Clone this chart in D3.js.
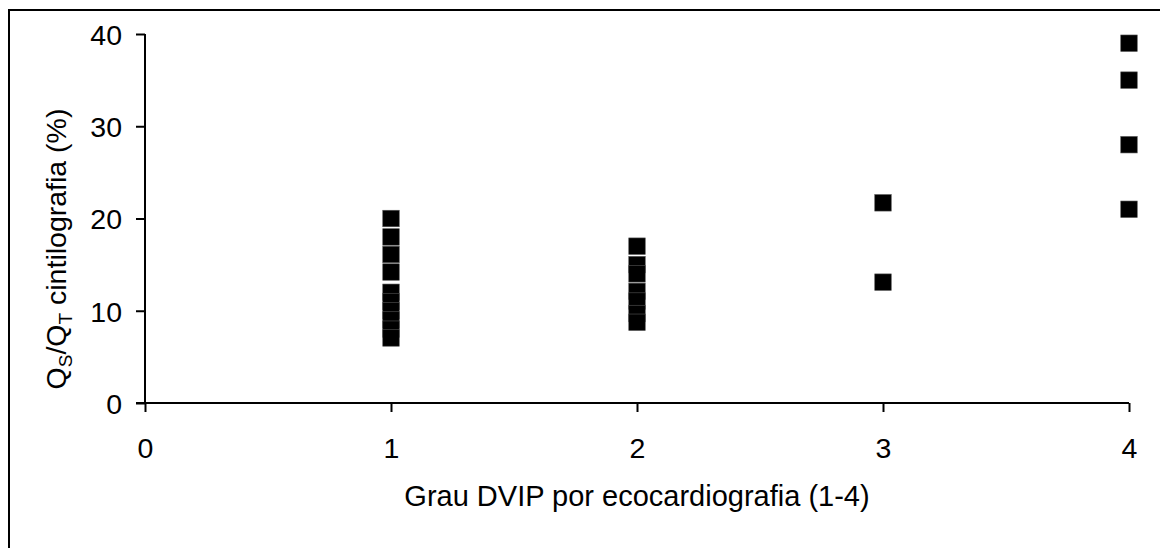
<!DOCTYPE html>
<html><head><meta charset="utf-8">
<script src="https://cdn.jsdelivr.net/npm/d3@7"></script>
<style>
html,body{margin:0;padding:0;background:#fff;}
svg{display:block;font-family:"Liberation Sans",Arial,sans-serif;}
</style></head>
<body>
<svg id="c" width="1160" height="548"></svg>
<script>
const xTicks = [0, 1, 2, 3, 4];
const yTicks = [0, 10, 20, 30, 40];
const grade = [1,1,1,1,1,1,1,1,1,1, 2,2,2,2,2,2,2, 3,3, 4,4,4,4];
const shunt = [20,18,16.1,14.2,12,11,10,9,8,7.05, 17,15,14,12.1,11.05,9.7,8.75, 21.7,13.1, 39,35,28,21];
const xTitle = "Grau DVIP por ecocardiografia (1-4)";

const svg = d3.select("#c");
svg.append("rect").attr("x",9).attr("y",10).attr("width",1200).attr("height",600)
  .attr("fill","none").attr("stroke","#000").attr("stroke-width",2);

const x = d3.scaleLinear().domain([0,4]).range([145,1129]);
const y = d3.scaleLinear().domain([0,40]).range([403,34]);
const fmt = d3.format("d");

const xAxis = svg.append("g").attr("transform","translate(0,403)")
  .call(d3.axisBottom(x).tickValues(xTicks).tickFormat(fmt).tickSize(9).tickSizeOuter(0));
const yAxis = svg.append("g").attr("transform","translate(145,0)")
  .call(d3.axisLeft(y).tickValues(yTicks).tickFormat(fmt).tickSize(9).tickSizeOuter(0).tickPadding(14));
[xAxis,yAxis].forEach(a=>{
  a.attr("font-size",null).attr("font-family",null);
  a.selectAll("path,line").attr("stroke","#000").attr("stroke-width",2);
  a.selectAll("text").style("font-size","28.5px").attr("fill","#000");
});
xAxis.selectAll("text").attr("y",55).attr("dy",0);
yAxis.selectAll("text").attr("dy","0.36em");
yAxis.select(".domain").attr("d","M0,34V403");
xAxis.select(".domain").attr("d","M136,0H1129");

const s = 16.5;
svg.append("g").selectAll("rect").data(grade.map((g,i)=>[g,shunt[i]])).join("rect")
  .attr("x",d=>x(d[0])-s/2).attr("y",d=>y(d[1])-s/2)
  .attr("width",s).attr("height",s).attr("fill","#000")
  .attr("stroke","#555").attr("stroke-width",0.6);

svg.append("text").attr("x",637).attr("y",506).attr("text-anchor","middle")
  .style("font-size","29px").attr("fill","#000").text(xTitle);

const yt = svg.append("text").attr("transform","translate(66,249) rotate(-90)")
  .attr("text-anchor","middle").style("font-size","28.5px").attr("fill","#000");
yt.append("tspan").text("Q");
yt.append("tspan").style("font-size","19px").attr("dy",6).text("S");
yt.append("tspan").attr("dy",-6).text("/Q");
yt.append("tspan").style("font-size","19px").attr("dy",6).text("T");
yt.append("tspan").attr("dy",-6).text(" cintilografia (%)");
</script>
</body></html>
